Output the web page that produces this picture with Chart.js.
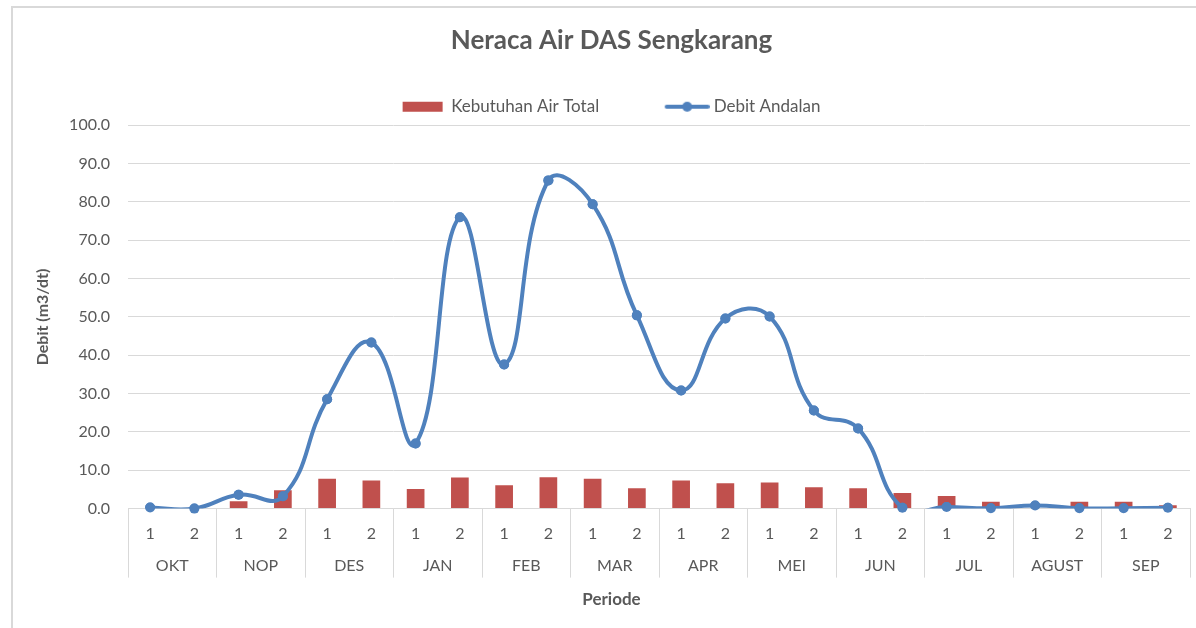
<!DOCTYPE html>
<html>
<head>
<meta charset="utf-8">
<script src="https://cdn.jsdelivr.net/npm/chart.js@4/dist/chart.umd.min.js"></script>
<style>
  html, body { margin: 0; padding: 0; background: #fff; }
  #frame {
    position: absolute; left: 11px; top: 6px; width: 1300px; height: 700px;
    border-left: 2px solid #d9d9d9; border-top: 2px solid #d9d9d9;
  }
  #wrap { position: absolute; left: 0; top: 0; width: 1196px; height: 628px; }
</style>
</head>
<body>
<div id="frame"></div>
<div id="wrap"><canvas id="neracaChart" width="1196" height="628"></canvas></div>
<script>
/* global Chart:false */

// periode (setengah bulan) dan bulan
var periods = ["1", "2", "1", "2", "1", "2", "1", "2", "1", "2", "1", "2",
  "1", "2", "1", "2", "1", "2", "1", "2", "1", "2", "1", "2"];
var months = ["OKT", "NOP", "DES", "JAN", "FEB", "MAR", "APR", "MEI", "JUN", "JUL", "AGUST", "SEP"];

// m3/dt
var kebutuhanAir = [0, 0, 1.9, 4.8, 7.8, 7.3, 5.1, 8.1, 6.1, 8.2, 7.8, 5.3,
  7.3, 6.6, 6.8, 5.6, 5.3, 4.1, 3.3, 1.8, 0, 1.8, 1.8, 0.9];
var debitAndalan = [0.3, 0.0, 3.6, 3.2, 28.5, 43.3, 17.0, 76.0, 37.6, 85.6, 79.4, 50.4,
  30.8, 49.6, 50.1, 25.6, 20.9, 0.2, 0.4, 0.1, 0.8, 0.1, 0.1, 0.2];

var textColor = "#595959";
var gridColor = "#d9d9d9";
var barColor = "#c0504d";
var lineColor = "#4f81bd";
var fontFamily = "Lato, 'Open Sans', sans-serif";

// legend icon for the line series: line with a marker
function lineIcon() {
  var c = document.createElement("canvas");
  c.width = 49;
  c.height = 12;
  var g = c.getContext("2d");
  g.strokeStyle = lineColor;
  g.lineWidth = 4;
  g.lineCap = "round";
  g.beginPath();
  g.moveTo(6, 6);
  g.lineTo(47, 6);
  g.stroke();
  g.fillStyle = lineColor;
  g.beginPath();
  g.arc(26.5, 6, 5, 0, Math.PI * 2);
  g.fill();
  return c;
}
var lineLegendIcon = lineIcon();

// markers are drawn again without the plot clip (Excel style)
var markersOnTop = {
  id: "markersOnTop",
  afterDatasetsDraw: function (chart) {
    var meta = chart.getDatasetMeta(1);
    meta.data.forEach(function (pt) {
      pt.draw(chart.ctx, chart.chartArea);
    });
  },
};

Chart.defaults.font.family = fontFamily;
Chart.defaults.color = textColor;

var ctx = document.getElementById("neracaChart").getContext("2d");
var neracaChart = new Chart(ctx, {
  type: "bar",
  data: {
    labels: periods,
    datasets: [
      {
        type: "bar",
        label: "Kebutuhan Air Total",
        data: kebutuhanAir,
        backgroundColor: barColor,
        borderWidth: 0,
        barPercentage: 0.8,
        categoryPercentage: 0.5,
        order: 2,
      },
      {
        type: "line",
        label: "Debit Andalan",
        data: debitAndalan,
        borderColor: lineColor,
        backgroundColor: lineColor,
        borderWidth: 4,
        tension: 0.45,
        capBezierPoints: false,
        pointRadius: 5,
        pointBorderWidth: 0,
        pointStyle: "circle",
        pointBackgroundColor: lineColor,
        clip: { left: 10, top: 10, right: 10, bottom: 0 },
        order: 1,
      },
    ],
  },
  options: {
    responsive: false,
    animation: false,
    layout: {
      padding: { left: 33, right: 6, top: 0, bottom: 0 },
    },
    plugins: {
      title: {
        display: true,
        text: "Neraca Air DAS Sengkarang",
        color: textColor,
        font: { size: 26, weight: "bold" },
        padding: { top: 25, bottom: -24 },
      },
      subtitle: {
        display: true,
        position: "bottom",
        text: "Periode",
        color: textColor,
        font: { size: 17, weight: "bold" },
        padding: { top: 14, bottom: 18 },
      },
      legend: {
        display: true,
        position: "top",
        labels: {
          usePointStyle: true,
          pointStyleWidth: 40,
          boxHeight: 10,
          padding: 66,
          color: textColor,
          font: { size: 17 },
          sort: function (a, b) {
            return a.datasetIndex - b.datasetIndex;
          },
          generateLabels: function (chart) {
            var items = Chart.defaults.plugins.legend.labels.generateLabels(chart);
            items.forEach(function (it) {
              it.pointStyle = it.datasetIndex === 1 ? lineLegendIcon : "rect";
              it.lineWidth = 0;
            });
            return items;
          },
        },
      },
      tooltip: { enabled: false },
    },
    scales: {
      x: {
        type: "category",
        position: "bottom",
        offset: true,
        weight: 0,
        afterFit: function (scale) {
          scale.height = 35;
        },
        grid: {
          offset: true,
          drawOnChartArea: false,
          tickLength: 69,
          color: function (c) {
            // separators only at month boundaries
            if (c.type !== "tick") return gridColor;
            return c.index % 2 === 0 ? gridColor : "rgba(0,0,0,0)";
          },
        },
        border: { display: true, color: gridColor },
        ticks: {
          padding: -53,
          autoSkip: false,
          maxRotation: 0,
          color: textColor,
          font: { size: 16 },
        },
      },
      xMonth: {
        type: "category",
        axis: "x",
        labels: months,
        position: "bottom",
        offset: true,
        weight: 1,
        afterFit: function (scale) {
          scale.height = 32;
        },
        grid: { display: false, drawTicks: false },
        border: { display: false },
        ticks: {
          padding: 13,
          autoSkip: false,
          maxRotation: 0,
          color: textColor,
          font: { size: 16 },
        },
      },
      y: {
        min: 0,
        max: 100,
        afterFit: function (scale) {
          scale.width = 95;
        },
        grid: { color: gridColor, drawTicks: false },
        border: { display: false },
        ticks: {
          stepSize: 10,
          padding: 18,
          color: textColor,
          font: { size: 16 },
          callback: function (v) {
            return v.toFixed(1);
          },
        },
        title: {
          display: true,
          text: "Debit (m3/dt)",
          color: textColor,
          font: { size: 16, weight: "bold" },
          padding: { top: 0, bottom: 0 },
        },
      },
    },
  },
  plugins: [markersOnTop],
});
</script>
</body>
</html>
